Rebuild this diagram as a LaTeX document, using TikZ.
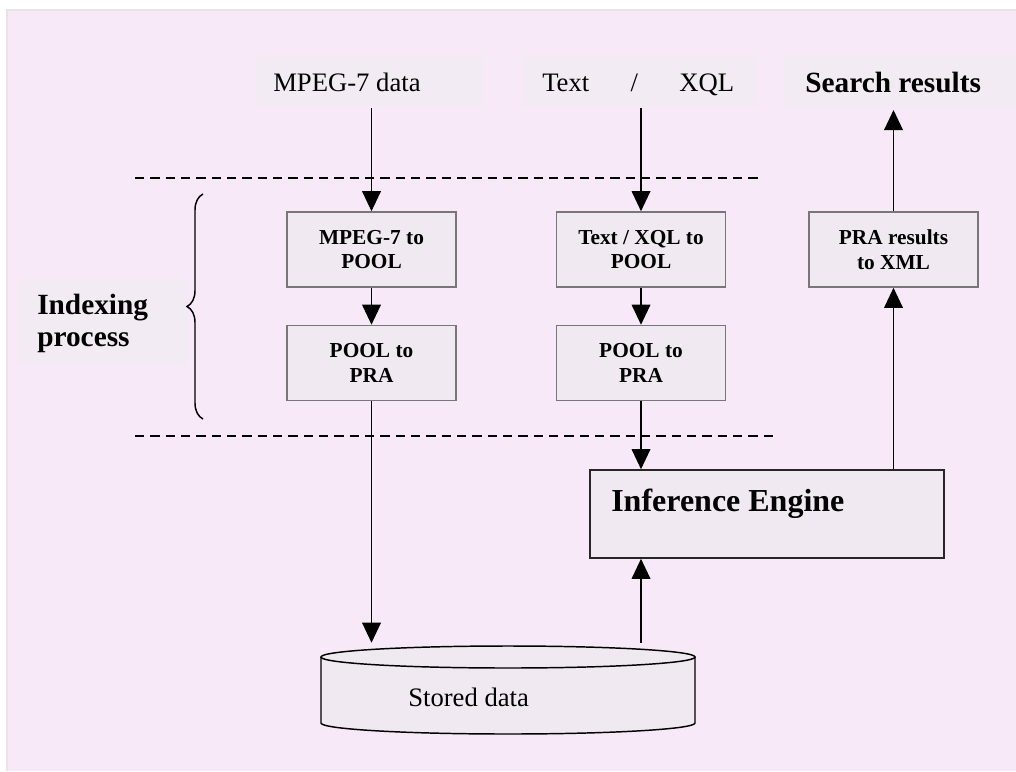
\documentclass[tikz,border=0pt]{standalone}
\usepackage{fontspec}
\setmainfont{Liberation Serif}
\usetikzlibrary{arrows.meta,decorations.pathreplacing}
\definecolor{pagebg}{HTML}{F7E9F7}
\definecolor{labelbg}{HTML}{F3EBF3}
\definecolor{boxfill}{HTML}{F1E9F1}
\definecolor{boxline}{HTML}{777777}
\begin{document}
\begin{tikzpicture}[x=0.75pt,y=-0.75pt,
  arr/.style={line width=1pt,-{Triangle[length=15pt,width=14pt]}},
  procbox/.style={draw=boxline,line width=1.2pt,fill=boxfill,minimum width=126.75pt,minimum height=56.25pt,align=center,inner sep=0pt,font=\bfseries\fontsize{16}{18.5}\selectfont},
  toplabel/.style={inner sep=0pt,font=\fontsize{20}{24}\selectfont},
  dashline/.style={line width=1.1pt,dash pattern=on 7pt off 4.5pt},
  cyl/.style={line width=1.1pt,draw=black}]
\useasboundingbox (0,0) rectangle (1016,771);
\fill[white] (0,0) rectangle (1016,771);
\fill[black!10] (6,9) rectangle (1016,771);
\fill[pagebg] (8,11) rectangle (1016,771);
% label backgrounds
\fill[labelbg] (255,57) rectangle (483,107);
\fill[labelbg] (523,57) rectangle (757,107);
\fill[labelbg] (785,55) rectangle (1016,110);
\fill[labelbg] (18,280) rectangle (188,365);
% top labels
\node[toplabel,anchor=base west] (mpeg) at (273,91) {MPEG-7 data};
\node[toplabel,anchor=base west] (txq) at (542,91) {Text\hspace{31pt}/\hspace{31pt}XQL};
\node[toplabel,anchor=base west,font=\bfseries\fontsize{22}{26}\selectfont] (search) at (805,92) {Search results};
\coordinate (mpegfoot) at (371.5,108);
\coordinate (txqfoot) at (641,108);
\coordinate (searchfoot) at (893.5,110);
% dashed separators
\draw[dashline] (135,178) -- (760,178);
\draw[dashline] (135,436) -- (776,436);
% boxes
\node[procbox] (b1) at (371.5,249.5) {MPEG-7 to\\POOL};
\node[procbox] (b2) at (371.5,363) {POOL to\\PRA};
\node[procbox] (b3) at (641,249.5) {Text / XQL to\\POOL};
\node[procbox] (b4) at (641,363) {POOL to\\PRA};
\node[procbox] (b5) at (893.5,249.5) {PRA results\\to XML};
\node[draw=black!85,line width=1.2pt,fill=boxfill,minimum width=265.5pt,minimum height=66pt,inner sep=0pt] (engine) at (767,514) {};
\node[anchor=base west,font=\bfseries\fontsize{24}{28}\selectfont,inner sep=0pt] (englabel) at (611,511) {Inference Engine};
% stored data cylinder
\node[minimum width=280.5pt,minimum height=68.25pt,inner sep=0pt] (stored) at (508,688.5) {};
\fill[boxfill] (508,723) ellipse[x radius=140.25pt,y radius=8.25pt];
\fill[boxfill] (321,657) rectangle (695,723);
\draw[cyl] (321,657) -- (321,723) arc[start angle=180,end angle=360,x radius=140.25pt,y radius=8.25pt] -- (695,657);
\filldraw[cyl,fill=boxfill] (508,657) ellipse[x radius=140.25pt,y radius=8.25pt];
\node[anchor=base west,font=\fontsize{20}{24}\selectfont,inner sep=0pt] (storedlabel) at (408,706) {Stored data};
% brace and label
\draw[line width=1.1pt,decorate,decoration={brace,amplitude=12pt}] (203,419) -- (203,194);
\node[anchor=west,align=left,font=\bfseries\fontsize{22}{24}\selectfont,inner sep=0pt] (idx) at (37,323) {Indexing\\process};
% arrows
\draw[arr] (mpegfoot) -- (b1.north);
\draw[arr] (b1) -- (b2);
\draw[arr] (b2.south) -- (b2.south |- stored.north);
\draw[arr] (txqfoot) -- (b3.north);
\draw[arr] (b3) -- (b4);
\draw[arr] (b4.south) -- (b4.south |- engine.north);
\draw[arr] (b4.south |- stored.north) -- (b4.south |- engine.south);
\draw[arr] (engine.north -| b5.south) -- (b5.south);
\draw[arr] (b5.north) -- (searchfoot);
\end{tikzpicture}
\end{document}
